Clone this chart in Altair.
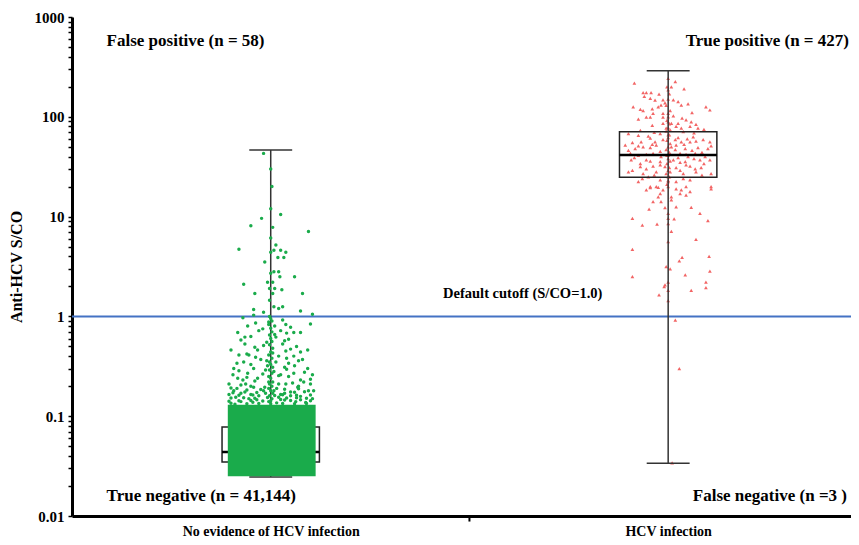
import altair as alt
import pandas as pd

# ---------------- data ----------------
categories = ["No evidence of HCV infection", "HCV infection"]
box_min = [0.0246, 0.0337]
box_q1 = [0.0347, 24.8]
box_median = [0.0437, 41.4]
box_q3 = [0.078, 71.0]
box_max = [46.5, 290.0]

# densely packed region of the negative group (S/CO range and jitter range)
dense_band_sco = [0.025, 0.13]
dense_band_jitter = [-0.108, 0.113]

# (S/CO, jitter in category units) for the negative group above the dense band
green_points = [
    (43, -0.018), (30, 0), (20, 0.003), (12, 0), (9.6, -0.023), (10.5, 0.025), (8.1, -0.05), (7.8, 0.005),
    (7.1, 0.095), (6.1, 0), (5.2, 0.013), (4.7, -0.08), (4.6, 0.008), (4.6, 0.025), (4.4, 0.038), (4.4, 0),
    (3.9, 0.018), (3.9, 0.033), (3.5, -0.015), (2.8, 0.008), (2.8, 0.02), (2.5, 0.06), (2.5, 0.023), (2.7, 0),
    (2.1, -0.068), (2.2, -0.008), (2.2, 0.005), (1.9, -0.003), (1.9, 0.01), (1.85, 0.028), (1.7, 0.08),
    (1.7, -0.04), (1.7, 0.005), (1.45, -0.003), (1.25, 0.008), (1.25, 0.03), (1.2, 0.02), (1.17, -0.043),
    (1.13, 0.075), (1.1, -0.018), (1.05, 0.105),
    (1.03, -0.043), (0.84, 0.1), (0.80, -0.058), (0.86, -0.038), (0.83, 0.038), (0.69, -0.083), (0.72, -0.03),
    (0.72, 0.025), (0.69, 0.058), (0.69, 0.075), (0.63, -0.05), (0.62, 0.013), (0.59, 0.045), (0.53, -0.065),
    (0.51, -0.018), (0.53, 0.03), (0.50, 0.065), (0.46, -0.1), (0.46, -0.033), (0.45, 0.038), (0.46, 0.093),
    (0.41, -0.08), (0.41, -0.055), (0.40, 0.02), (0.40, 0.058), (0.37, -0.025), (0.37, 0.08), (0.35, -0.068),
    (0.35, 0.013), (0.34, 0.045), (0.30, -0.093), (0.30, -0.043), (0.30, 0.093), (0.29, -0.013), (0.27, -0.058),
    (0.27, 0.058), (0.26, 0.025), (0.26, 0.105), (0.24, -0.083), (0.24, -0.033), (0.23, 0.075), (0.22, -0.005),
    (0.21, -0.105), (0.21, -0.063), (0.21, 0.038), (0.21, 0.1), (0.195, -0.043), (0.195, 0.068), (0.18, -0.093),
    (0.18, 0.008), (0.18, -0.018), (0.175, 0.05), (0.18, 0.095), (0.17, -0.075), (0.165, -0.05), (0.165, 0.025),
    (0.18, 0.108),
    (0.14, -0.005), (0.15, 0.003), (0.16, -0.003), (0.17, 0.005), (0.18, 0), (0.19, -0.005), (0.2, 0.003),
    (0.21, -0.003), (0.22, 0.005), (0.24, 0), (0.25, -0.005), (0.27, 0.003), (0.29, -0.003), (0.31, 0.005),
    (0.33, 0), (0.35, -0.003), (0.38, 0.003), (0.41, -0.005), (0.44, 0), (0.48, 0.005), (0.52, -0.003),
    (0.56, 0.003), (0.6, 0), (0.65, -0.003), (0.7, 0.003), (0.76, 0), (0.83, -0.005), (0.9, 0.003), (0.95, 0),
    (1.0, -0.003),
    (0.135, -0.1), (0.14, -0.075), (0.138, -0.045), (0.142, -0.02), (0.136, 0.015), (0.145, 0.035), (0.14, 0.063),
    (0.137, 0.088), (0.15, 0.105), (0.155, -0.088), (0.15, -0.055), (0.16, -0.03), (0.155, 0.02), (0.16, 0.05),
    (0.158, 0.075), (0.165, -0.105), (0.17, -0.013), (0.17, 0.035), (0.175, -0.065), (0.19, -0.085),
    (0.185, -0.025), (0.19, 0.015), (0.2, 0.07), (0.2, -0.05), (0.22, 0.083), (0.23, -0.07), (0.25, 0.045),
    (0.26, -0.095), (0.28, 0.008), (0.32, -0.008), (0.31, 0.035), (0.33, -0.05), (0.36, 0.07), (0.39, -0.038),
    (0.43, 0.005), (0.47, 0.05), (0.55, -0.01), (0.58, -0.075), (0.66, 0.01), (0.75, -0.02), (0.78, 0.05),
    (0.88, -0.005), (0.92, 0.03), (0.97, -0.07),
    (0.132, -0.09), (0.133, -0.06), (0.134, -0.03), (0.133, 0.0), (0.134, 0.03), (0.133, 0.06), (0.134, 0.09),
    (0.141, -0.105), (0.143, -0.08), (0.144, -0.05), (0.146, -0.035), (0.143, 0.0), (0.147, 0.025),
    (0.144, 0.05), (0.146, 0.075), (0.143, 0.1), (0.152, -0.1), (0.153, -0.068), (0.151, -0.04),
    (0.154, -0.008), (0.152, 0.04), (0.153, 0.065), (0.151, 0.09), (0.162, -0.08), (0.163, -0.045),
    (0.161, 0.01), (0.164, 0.03), (0.162, 0.065), (0.163, 0.1), (0.172, -0.095), (0.173, -0.035),
    (0.174, 0.06), (0.176, 0.085), (0.183, -0.06), (0.186, 0.035), (0.188, 0.07), (0.192, -0.1),
    (0.195, -0.015), (0.205, -0.075), (0.21, 0.02), (0.215, 0.055), (0.225, -0.04), (0.235, 0.1),
    (0.245, -0.06), (0.255, 0.02), (0.265, -0.02), (0.275, 0.085), (0.285, -0.08), (0.295, 0.04),
    (0.32, 0.06), (0.34, -0.085), (0.36, -0.01), (0.38, 0.04), (0.42, -0.06), (0.44, 0.075), (0.49, -0.04),
    (0.57, 0.035), (0.62, -0.065), (0.68, 0.04), (0.8, 0.01),
]

# (S/CO, jitter in category units) for the HCV infection group
red_points = [
    (217, -0.085), (175, -0.063), (175, -0.055), (175, -0.043), (169, -0.023), (225, 0.018), (200, 0.008),
    (243, 0), (186, 0), (153, -0.045), (147, -0.033), (148, -0.013), (138, -0.008), (148, 0.013), (142, 0.025),
    (131, 0.033), (126, -0.088), (119, -0.07), (115, -0.063), (126, -0.025), (131, -0.018), (126, 0.095),
    (117, 0.105), (108, -0.038), (108, -0.013), (108, 0), (99, -0.055), (99, -0.045), (99, -0.013), (102, 0.013),
    (89, 0), (86, -0.013), (86, 0.008), (86, 0.025), (93, 0.045), (89, 0.058), (80, 0.02), (77, 0.033),
    (80, 0.055), (77, 0.075), (77, -0.005), (74, 0.005), (68, -0.1), (68, -0.02), (71, 0.038), (66, 0),
    (61, -0.045), (59, 0.018), (63, 0.063), (56, -0.068), (56, -0.033), (59, -0.013), (56, 0.033), (56, 0.055),
    (59, 0.088), (56, 0.105), (52, -0.108), (48, -0.083), (50, -0.063), (52, -0.03), (50, 0.008), (52, 0.02),
    (48, 0.043), (49, 0.075), (48, 0.1), (51, 0.108), (43, -0.095), (41, -0.075), (43, -0.038), (40, -0.018),
    (41, 0), (43, 0.03), (40, 0.05), (43, 0.068), (40, 0.093), (37, -0.093), (37, -0.055), (35.5, -0.02),
    (37, 0.013), (35.5, 0.043), (37, 0.08), (37, 0.105), (31.6, -0.07), (32, -0.038), (31.6, -0.008),
    (31, 0.02), (32, 0.055), (31, 0.083), (28, -0.1), (27, -0.063), (28, -0.03), (28, 0.005), (27, 0.038),
    (28, 0.07), (27, 0.108), (25, -0.05), (25, 0), (22.4, -0.075), (23.3, -0.02), (22.4, 0), (22.4, 0.02),
    (23.3, 0.055), (20, -0.045), (20, -0.03), (20, 0), (20, 0.045), (20, 0.108),
    (200, -0.003), (170, 0.003), (150, 0), (130, -0.005), (115, 0.005), (100, 0), (92, -0.003), (85, 0.003),
    (78, 0), (72, -0.005), (66, 0.003), (62, 0), (58, -0.003), (54, 0.005), (50, 0), (47, -0.005), (44, 0.003),
    (41, -0.003), (38, 0), (36, 0.005), (34, -0.003), (31, 0.003), (29, 0), (27, -0.005), (25, 0.003),
    (23, 0), (21, -0.003),
    (18.5, -0.055), (19.5, -0.045), (19.6, -0.025), (18.5, -0.013), (19, 0.02), (18.5, 0.033), (17.8, 0.055),
    (16.4, 0.045), (17, 0.03), (17, -0.02), (19, 0.108), (15.8, -0.025), (15.8, 0.008), (14.1, -0.038),
    (14.1, -0.018), (14.7, 0.008), (11.9, -0.048), (12.3, -0.008), (12.5, 0.02), (12.4, 0.058), (10.8, 0),
    (10.8, 0.08), (9.6, -0.09), (9.6, 0), (9.5, 0.015), (9.1, 0.1), (8.2, -0.065), (8.4, -0.028), (8.5, 0),
    (7.1, 0.008), (5.6, 0), (5.9, 0.07), (4.7, -0.09), (3.9, 0.035), (3.6, 0.028), (4.0, 0.103), (3.15, -0.005),
    (3.0, 0.005), (2.5, -0.09), (2.6, 0.043), (2.85, 0.105), (2.2, 0.095), (2.2, 0), (2.07, -0.008),
    (1.99, -0.01), (1.94, 0.095), (1.82, 0.058), (1.82, 0), (1.64, -0.023), (1.44, 0), (0.92, 0.018),
    (0.30, 0.028), (0.034, 0.01),
    (65, -0.075), (64, -0.05), (62, 0.025), (60, 0.048), (57, 0.07), (55, -0.09), (53, -0.04), (53, 0.04),
    (51, -0.075), (49, -0.045), (47, 0.018), (46, 0.06), (46, -0.1), (45, -0.02), (44, 0.085), (42, -0.055),
    (42, 0.045), (39, -0.085), (39, 0.025), (38, 0.065), (36, -0.045), (35, 0.03), (34, -0.07), (34, 0.09),
    (33, -0.02), (33, 0.045), (30, -0.055), (30, 0.068), (29, -0.09), (29, 0.03), (26, -0.035), (26, 0.085),
    (24, 0.038), (24, -0.065), (70, -0.035), (69, 0.065), (73, -0.07), (75, 0.09), (82, -0.04), (84, 0.07),
    (95, -0.075), (97, 0.035), (110, 0.06), (120, -0.04), (135, 0.05), (160, -0.06), (190, 0.04),
]

cutoff_value = [1.0]
cutoff_label = ["Default cutoff (S/CO=1.0)"]
cutoff_label_x = [1.134]
cutoff_label_y = [1.67]

ann_text = ["False positive (n = 58)", "True positive (n = 427)",
            "True negative (n = 41,144)", "False negative (n =3 )"]
ann_x = [0.087, 1.544, 0.087, 1.562]
ann_y = [575, 575, 0.0158, 0.0158]

y_major = [0.01, 0.1, 1, 10, 100, 1000]

# ---------------- styling ----------------
FONT = "Liberation Serif"
GREEN = "#1aab4b"
RED = "#f26565"
BLUE = "#4472C4"
BOX_HW = 0.1225
CAP_HW = 0.054
X_MAX = 1.96

xs = alt.Scale(domain=[0, X_MAX], nice=False, zero=False)
ys = alt.Scale(type="log", domain=[0.01, 1000], nice=False)

centers = [i + 0.5 for i in range(len(categories))]
box_df = pd.DataFrame({
    "cat": categories, "c": centers, "lo": box_min, "q1": box_q1,
    "med": box_median, "q3": box_q3, "hi": box_max,
})
box_df["xl"] = box_df["c"] - BOX_HW
box_df["xr"] = box_df["c"] + BOX_HW
box_df["cl"] = box_df["c"] - CAP_HW
box_df["cr"] = box_df["c"] + CAP_HW

g_df = pd.DataFrame(green_points, columns=["v", "j"])
g_df["x"] = centers[0] + g_df["j"]
r_df = pd.DataFrame(red_points, columns=["v", "j"])
r_df["x"] = centers[1] + r_df["j"]
band_df = pd.DataFrame({"x": [centers[0] + dense_band_jitter[0]], "x2": [centers[0] + dense_band_jitter[1]],
                        "y": [dense_band_sco[0]], "y2": [dense_band_sco[1]]})

minor = [m * 10.0 ** d for d in range(-2, 3) for m in range(1, 10)] + [1000]
major_test = "abs(log(datum.value)/LN10 - round(log(datum.value)/LN10)) < 0.000001"

y_axis = alt.Axis(
    values=minor, format="~g",
    labelExpr=f"({major_test}) ? datum.label : ''",
    tickSize=4, tickColor="black", tickWidth=1.5, domainColor="black", domainWidth=3,
    labelFont=FONT, labelFontWeight="bold", labelFontSize=15, labelColor="black", labelPadding=4,
    grid=False, title="Anti-HCV S/CO", titleFont=FONT, titleFontWeight="bold", titleFontSize=16,
    titleColor="black", titlePadding=10,
)
x_label_expr = (f"datum.value == {centers[0]} ? '{categories[0]}' : "
                f"(datum.value == {centers[1]} ? '{categories[1]}' : '')")
x_axis = alt.Axis(
    values=centers, labelExpr=x_label_expr, ticks=False,
    domainColor="black", domainWidth=3, labelFlush=False,
    labelFont=FONT, labelFontWeight="bold", labelFontSize=14, labelColor="black", labelPadding=8,
    grid=False, title=None,
)


def X(f, **kw):
    return alt.X(f, type="quantitative", scale=xs, axis=x_axis, **kw)


def Y(f, **kw):
    return alt.Y(f, type="quantitative", scale=ys, axis=y_axis, **kw)


cut_df = pd.DataFrame({"v": cutoff_value})
cut_rule = alt.Chart(cut_df).mark_rule(color=BLUE, strokeWidth=2).encode(y=Y("v"))

# separator tick between the two categories, just below the x axis
sep_df = pd.DataFrame({"x": [1.0], "y": [0.0088], "y2": [0.01]})
sep = alt.Chart(sep_df).mark_rule(color="black", strokeWidth=2).encode(x=X("x"), y=Y("y"), y2="y2")


def box_layers(df):
    rect = alt.Chart(df).mark_rect(fill="white", fillOpacity=0, stroke="#222", strokeWidth=1.5).encode(
        x=X("xl"), x2="xr", y=Y("q1"), y2="q3")
    whisk = alt.Chart(df).mark_rule(color="#333", strokeWidth=1.5).encode(x=X("c"), y=Y("lo"), y2="hi")
    cap_lo = alt.Chart(df).mark_rule(color="#333", strokeWidth=1.5).encode(x=X("cl"), x2="cr", y=Y("lo"))
    cap_hi = alt.Chart(df).mark_rule(color="#333", strokeWidth=1.5).encode(x=X("cl"), x2="cr", y=Y("hi"))
    med = alt.Chart(df).mark_rule(color="black", strokeWidth=2.5).encode(x=X("xl"), x2="xr", y=Y("med"))
    return [rect, whisk, cap_lo, cap_hi, med]


green_box = box_layers(box_df.iloc[[0]])
red_box = box_layers(box_df.iloc[[1]])

band = alt.Chart(band_df).mark_rect(color=GREEN).encode(x=X("x"), x2="x2", y=Y("y"), y2="y2")
g_pts = alt.Chart(g_df).mark_point(filled=True, shape="circle", size=12, color=GREEN, opacity=1).encode(
    x=X("x"), y=Y("v"))
r_pts = alt.Chart(r_df).mark_point(filled=True, shape="triangle-up", size=14, color=RED, opacity=1).encode(
    x=X("x"), y=Y("v"))

ann_df = pd.DataFrame({"t": ann_text, "x": ann_x, "y": ann_y})
ann = alt.Chart(ann_df).mark_text(align="left", baseline="middle", font=FONT, fontWeight="bold",
                                  fontSize=17, color="black").encode(x=X("x"), y=Y("y"), text="t")
cut_txt_df = pd.DataFrame({"t": cutoff_label, "x": cutoff_label_x, "y": cutoff_label_y})
cut_txt = alt.Chart(cut_txt_df).mark_text(align="center", baseline="middle", font=FONT, fontWeight="bold",
                                          fontSize=14.5, color="black").encode(x=X("x"), y=Y("y"), text="t")

chart = alt.layer(
    cut_rule, *green_box, band, g_pts, r_pts, *red_box, sep, ann, cut_txt
).properties(
    width=779, height=499,
    autosize=alt.AutoSizeParams(type="none"),
    padding={"left": 64, "top": 9, "right": 0, "bottom": 21},
).configure_view(strokeWidth=0, stroke="transparent")

chart.save("out.html", embed_options={"renderer": "svg", "actions": False})
